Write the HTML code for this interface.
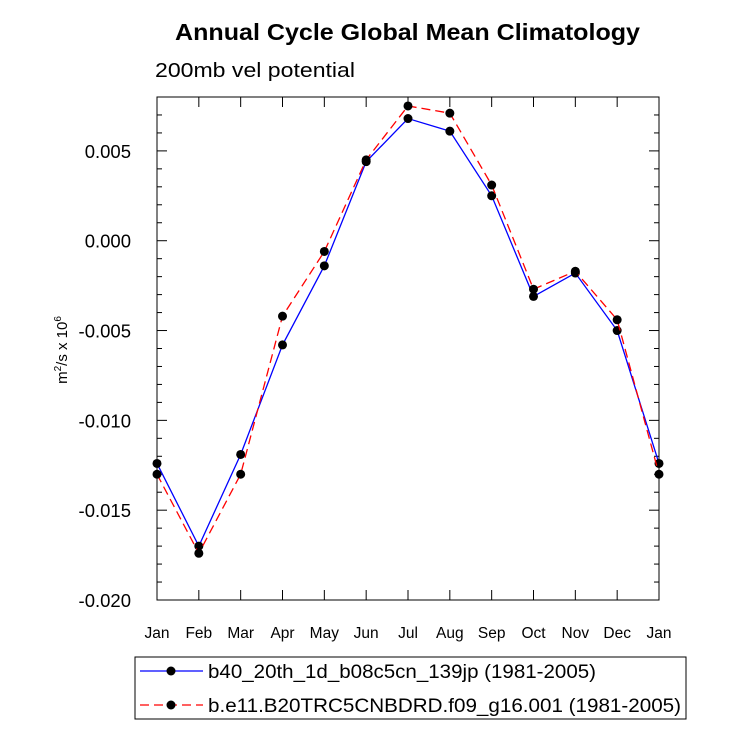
<!DOCTYPE html>
<html><head><meta charset="utf-8"><style>
html,body{margin:0;padding:0;background:#fff;}
svg{display:block;font-family:"Liberation Sans",sans-serif;}
</style></head><body>
<svg id="chart" width="733" height="744">
<text x="175" y="40" textLength="465" lengthAdjust="spacingAndGlyphs" font-size="23" font-weight="bold">Annual Cycle Global Mean Climatology</text>
<text x="155" y="77" textLength="200" lengthAdjust="spacingAndGlyphs" font-size="20">200mb vel potential</text>
<g id="axes"></g>
<g id="series"></g>
<text transform="translate(67,350) rotate(-90)" text-anchor="middle" font-size="15">m<tspan font-size="10" dy="-6">2</tspan><tspan dy="6">/s x 10</tspan><tspan font-size="10" dy="-6">6</tspan></text>
<rect x="135" y="657" width="551" height="62" fill="none" stroke="#000" stroke-width="1"/>
<g>
<line x1="140" y1="671" x2="203" y2="671" stroke="#0000ff" stroke-width="1.2"/>
<circle cx="171" cy="671" r="4.5" fill="#000"/>
<text x="208" y="678" textLength="388" lengthAdjust="spacingAndGlyphs" font-size="19">b40_20th_1d_b08c5cn_139jp (1981-2005)</text>
</g>
<g>
<line x1="140" y1="705" x2="203" y2="705" stroke="#ff0000" stroke-width="1.2" stroke-dasharray="9,5"/>
<circle cx="171" cy="705" r="4.5" fill="#000"/>
<text x="208" y="712" textLength="473" lengthAdjust="spacingAndGlyphs" font-size="19">b.e11.B20TRC5CNBDRD.f09_g16.001 (1981-2005)</text>
</g>
</svg>
<script>
const months=["Jan","Feb","Mar","Apr","May","Jun","Jul","Aug","Sep","Oct","Nov","Dec","Jan"];
const seriesB40=[-0.0124,-0.0170,-0.0119,-0.0058,-0.0014,0.0044,0.0068,0.0061,0.0025,-0.0031,-0.0018,-0.0050,-0.0124];
const seriesBE11=[-0.0130,-0.0174,-0.0130,-0.0042,-0.0006,0.0045,0.0075,0.0071,0.0031,-0.0027,-0.0017,-0.0044,-0.0130];
const yTicks=[-0.020,-0.015,-0.010,-0.005,0.000,0.005];
const yTickLabels=["-0.020","-0.015","-0.010","-0.005","0.000","0.005"];
const X0=157,X1=659,Y0=97,Y1=600,YMIN=-0.020,YMAX=0.008;
const NS="http://www.w3.org/2000/svg";
function xs(i){return X0+(X1-X0)*i/(months.length-1);}
function ys(v){return Y1-(v-YMIN)/(YMAX-YMIN)*(Y1-Y0);}
function mk(tag,attrs,parent){const e=document.createElementNS(NS,tag);for(const k in attrs)e.setAttribute(k,attrs[k]);parent.appendChild(e);return e;}
const ax=document.getElementById('axes');
const frame=mk('rect',{x:X0,y:Y0,width:X1-X0,height:Y1-Y0,fill:'none',stroke:'#000','stroke-width':1},ax);


for(let v=YMIN;v<=YMAX+1e-9;v+=0.001){
  const y=ys(v);const major=Math.abs(Math.round(v*1000)%5)===0;const L=major?10:5;
  mk('line',{x1:X0,y1:y,x2:X0+L,y2:y,stroke:'#000'},ax);
  mk('line',{x1:X1,y1:y,x2:X1-L,y2:y,stroke:'#000'},ax);
}
yTicks.forEach((v,i)=>{
  const t=mk('text',{x:X0-26,y:ys(v)+7,'text-anchor':'end','font-size':18.5},ax);
  t.textContent=yTickLabels[i];
  
  
});
months.forEach((m,i)=>{
  const x=xs(i);
  mk('line',{x1:x,y1:Y1,x2:x,y2:Y1-10,stroke:'#000'},ax);
  mk('line',{x1:x,y1:Y0,x2:x,y2:Y0+10,stroke:'#000'},ax);
  const t=mk('text',{x:x,y:Y1+38,'text-anchor':'middle','font-size':15.5},ax);
  t.textContent=m;
  
  
});
const sg=document.getElementById('series');
function draw(data,color,dash,name){
  const g=mk('g',{},sg);
  
  
  const pts=data.map((v,i)=>xs(i)+','+ys(v)).join(' ');
  const a={points:pts,fill:'none',stroke:color,'stroke-width':1.3};
  if(dash)a['stroke-dasharray']=dash;
  mk('polyline',a,g);
  data.forEach((v,i)=>{
    const c=mk('circle',{cx:xs(i),cy:ys(v),r:4.5,fill:'#000'},g);
    
    
  });
}
draw(seriesB40,'#0000ff',null,'series-b40');
draw(seriesBE11,'#ff0000','9,5','series-be11');
</script>
</body></html>
